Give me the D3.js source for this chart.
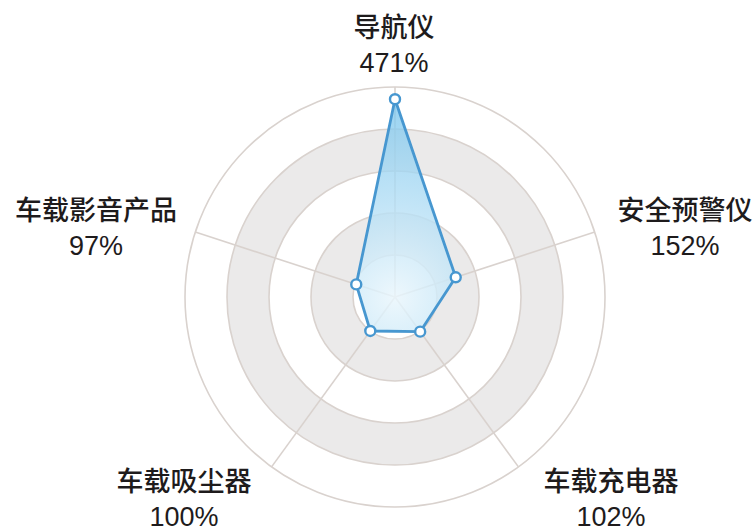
<!DOCTYPE html>
<html>
<head>
<meta charset="utf-8">
<script src="https://cdn.jsdelivr.net/npm/d3@7"></script>
<style>
  html, body { margin: 0; padding: 0; background: #fff; }
  svg { display: block; }
  .lbl { font-family: "Liberation Sans", "Noto Sans CJK SC", sans-serif; font-size: 27px; fill: #1e1b1c; }
  .lbl .name { font-family: "Noto Sans CJK SC", sans-serif; font-weight: 500; }
</style>
</head>
<body>
<div id="chart"></div>
<script>
// data
const categories = ["导航仪", "安全预警仪", "车载充电器", "车载吸尘器", "车载影音产品"];
const values = [471, 152, 102, 100, 97];
const ringTicks = [100, 200, 300, 400, 500];

// label anchor offsets from the centre (layout only)
const labelOffsets = [[-1, -260], [290, -77], [216, 194], [-211, 194], [-299, -77]];

const width = 753, height = 532;
const cx = 395, cy = 297;
const R = 210;

const svg = d3.select("#chart").append("svg")
  .attr("width", width)
  .attr("height", height);

const defs = svg.append("defs");
const grad = defs.append("radialGradient")
  .attr("id", "fillGrad")
  .attr("gradientUnits", "userSpaceOnUse")
  .attr("cx", 0).attr("cy", 0).attr("r", R);
grad.append("stop").attr("offset", "0%").attr("stop-color", "#eaf6fc").attr("stop-opacity", 0.85);
grad.append("stop").attr("offset", "100%").attr("stop-color", "#70c1ec").attr("stop-opacity", 0.75);

const g = svg.append("g").attr("transform", `translate(${cx},${cy})`);

const r = d3.scaleLinear().domain([0, 500]).range([0, R]);
const angle = d3.scaleLinear().domain([0, categories.length]).range([0, 2 * Math.PI]);

// Background bands: draw from outside in, alternating white / gray
const bands = ringTicks.slice().reverse();
g.append("g")
  .selectAll("circle")
  .data(bands)
  .enter()
  .append("circle")
  .attr("r", d => r(d))
  .attr("fill", d => (d / 100) % 2 === 0 ? "#ebeaea" : "#ffffff")
  .attr("stroke", "#d9d2ce")
  .attr("stroke-width", 1.6);

// spokes
g.append("g")
  .selectAll("line")
  .data(categories)
  .enter()
  .append("line")
  .attr("x1", 0).attr("y1", 0)
  .attr("x2", (d, i) => r(500) * Math.sin(angle(i)))
  .attr("y2", (d, i) => -r(500) * Math.cos(angle(i)))
  .attr("stroke", "#d9d2ce")
  .attr("stroke-width", 1.6);

// polygon
const line = d3.lineRadial()
  .angle((d, i) => angle(i))
  .radius(d => r(d))
  .curve(d3.curveLinearClosed);

g.append("path")
  .datum(values)
  .attr("d", line)
  .attr("fill", "url(#fillGrad)")
  .attr("stroke", "#4797d0")
  .attr("stroke-width", 2.8)
  .attr("stroke-linejoin", "round");

// points
g.append("g")
  .selectAll("circle")
  .data(values)
  .enter()
  .append("circle")
  .attr("cx", (d, i) => r(d) * Math.sin(angle(i)))
  .attr("cy", (d, i) => -r(d) * Math.cos(angle(i)))
  .attr("r", 5)
  .attr("fill", "#fff")
  .attr("stroke", "#4797d0")
  .attr("stroke-width", 2.4);

// labels
const labels = g.append("g")
  .selectAll("text")
  .data(categories)
  .enter()
  .append("text")
  .attr("class", "lbl")
  .attr("text-anchor", "middle")
  .attr("transform", (d, i) => `translate(${labelOffsets[i][0]},${labelOffsets[i][1]})`);

labels.append("tspan")
  .attr("class", "name")
  .attr("x", 0)
  .attr("y", 0)
  .text(d => d);

labels.append("tspan")
  .attr("x", 0)
  .attr("y", 35)
  .text((d, i) => values[i] + "%");
</script>
</body>
</html>
